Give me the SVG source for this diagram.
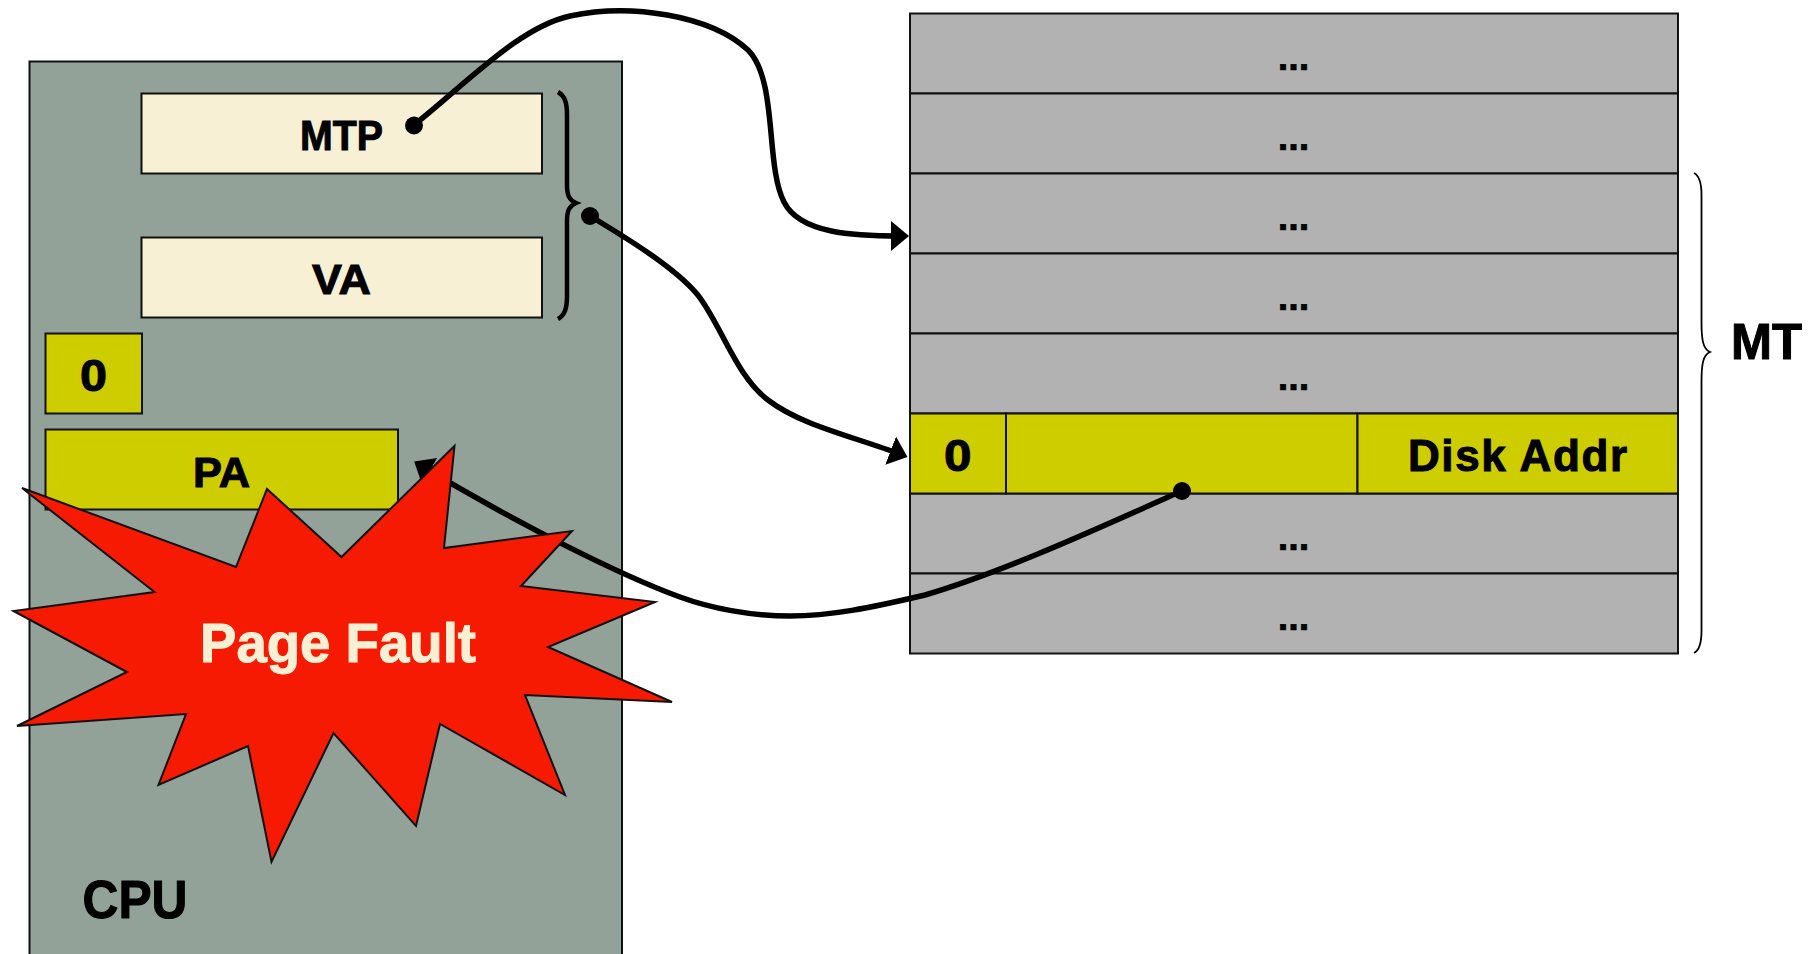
<svg xmlns="http://www.w3.org/2000/svg" width="1808" height="954" viewBox="0 0 1808 954">
<style>
.b{stroke:#111;stroke-width:2}
.cpu{fill:#92a298}.cream{fill:#f7f0d5}.yel{fill:#cecd00}.gray{fill:#b2b2b2}
text{font-family:"Liberation Sans",Arial,sans-serif;font-weight:700;fill:#000;stroke:#000;stroke-width:1}
.dots{font-size:38px;text-anchor:middle;stroke-width:.6}
.c{fill:none;stroke:#000;stroke-width:5.500;stroke-linecap:butt}
</style>
<defs><marker id="ah" markerUnits="userSpaceOnUse" markerWidth="20" markerHeight="32" refX="10" refY="16" orient="auto"><path d="M0,1 L18,16 L0,31 Z" fill="#000"/></marker></defs>
<rect width="1808" height="954" fill="#fff"/>
<g id="cpu"><rect class="cpu b" x="29.5" y="61.5" width="592.5" height="900"/><text x="82.500" y="917.500" font-size="54" textLength="105" lengthAdjust="spacingAndGlyphs">CPU</text></g>
<g id="mtp"><rect class="cream b" x="141.5" y="93.5" width="400.5" height="80"/><text x="300" y="149.500" font-size="43" textLength="83" lengthAdjust="spacingAndGlyphs">MTP</text></g>
<g id="va"><rect class="cream b" x="141.5" y="237.5" width="400.5" height="80"/><text x="312" y="293.500" font-size="43" textLength="59" lengthAdjust="spacingAndGlyphs">VA</text></g>
<g id="flag"><rect class="yel b" x="45.5" y="333.5" width="96.5" height="80"/><text x="80" y="390.500" font-size="44" textLength="27" lengthAdjust="spacingAndGlyphs">0</text></g>
<g id="pa"><rect class="yel b" x="45.5" y="429.5" width="352.5" height="80"/><text x="193" y="487" font-size="43" textLength="57" lengthAdjust="spacingAndGlyphs">PA</text></g>
<g id="brace-regs"><path d="M558,92 C565,96 567,103 567,115 L567,185 C567,195 569,200 576,203 C569,206 567,211 567,221 L567,296 C567,308 565,315 558,319" fill="none" stroke="#000" stroke-width="4.5"/></g>
<g id="mt-table">
<rect class="gray b" x="910" y="13.5" width="768" height="80"/><text class="dots" x="1293.5" y="69.500">...</text>
<rect class="gray b" x="910" y="93.5" width="768" height="80"/><text class="dots" x="1293.5" y="149.500">...</text>
<rect class="gray b" x="910" y="173.5" width="768" height="80"/><text class="dots" x="1293.5" y="229.500">...</text>
<rect class="gray b" x="910" y="253.5" width="768" height="80"/><text class="dots" x="1293.5" y="309.500">...</text>
<rect class="gray b" x="910" y="333.5" width="768" height="80"/><text class="dots" x="1293.5" y="389.500">...</text>
<rect class="gray b" x="910" y="493.5" width="768" height="80"/><text class="dots" x="1293.5" y="549.500">...</text>
<rect class="gray b" x="910" y="573.5" width="768" height="80"/><text class="dots" x="1293.5" y="629.500">...</text>
</g>
<g id="pte">
<rect class="yel b" x="910" y="413.5" width="96" height="80"/><text x="944" y="471" font-size="44" textLength="27.5" lengthAdjust="spacingAndGlyphs">0</text>
<rect class="yel b" x="1006" y="413.5" width="351.5" height="80"/>
<rect class="yel b" x="1357.5" y="413.5" width="320.5" height="80"/><text x="1408" y="471" font-size="44" textLength="219" lengthAdjust="spacing">Disk Addr</text>
</g>
<g id="brace-mt"><path d="M1694,173 C1700,176 1701.5,184 1701.5,195 L1701.5,322 C1701.5,340 1703,349 1710,352 C1703,355 1701.5,364 1701.5,382 L1701.5,631 C1701.5,642 1700,650 1694,653" fill="none" stroke="#000" stroke-width="1.8"/></g>
<text id="mt-label" x="1731" y="358.500" font-size="50" textLength="71" lengthAdjust="spacingAndGlyphs">MT</text>
<g id="connectors">
<path class="c" marker-end="url(#ah)" d="M414,125 C470,80 520,27 570,16 C630,3 710,15 748,50 C778,80 765,165 784,202 C800,234 855,236 901,236"/>
<path class="c" marker-end="url(#ah)" d="M590,216 C630,240 675,268 697,294 C720,322 735,375 768,400 C800,425 855,437 900,454.200"/>
<path class="c" marker-end="url(#ah)" d="M1182,491 C1120,518 1010,570 925,595 C870,608 830,616 790,616 C750,616 710,608 680,597 C620,575 520,525 421,465.700"/>
<ellipse cx="414" cy="125.5" rx="9" ry="9"/>
<ellipse cx="590" cy="216" rx="9" ry="9"/>
<ellipse cx="1182" cy="491" rx="9" ry="9"/>
</g>
<g id="page-fault"><path d="M22,488 L236,567 L267,489 L341.500,557 L454.500,446 L444,548 L572,531 L521,586 L655,602 L548,647 L672,702 L525,695 L565,795 L440,724 L416,826 L333.500,733 L271.500,862 L248,746 L158.500,785 L186,714 L17,726 L127,672 L13.500,611 L154.500,592 Z" fill="#f61a03" stroke="#111" stroke-width="2" stroke-linejoin="miter"/><text x="200" y="662" font-size="55" textLength="276" lengthAdjust="spacingAndGlyphs" style="fill:#f7f0d5;stroke:#f7f0d5">Page Fault</text></g>
</svg>
